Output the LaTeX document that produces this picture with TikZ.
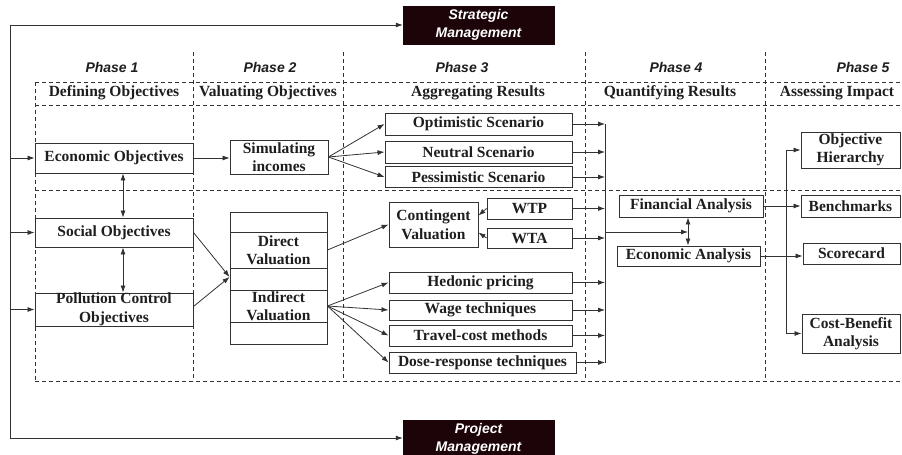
\documentclass[tikz,border=0pt]{standalone}
\usepackage{fontspec}
\setmainfont{Liberation Serif}
\setsansfont{Liberation Sans}
\usepackage{tikz}
\usetikzlibrary{arrows.meta}
\definecolor{mgmtfill}{RGB}{28,4,8}
\definecolor{linegray}{RGB}{50,50,50}
\definecolor{textgray}{RGB}{30,30,30}

\begin{document}
\begin{tikzpicture}[x=1pt, y=-1pt,
  >={Latex[length=7pt,width=5pt]},
  box/.style={draw=linegray, fill=white, line width=0.9pt, inner sep=0pt, align=center,
    text=textgray, font=\bfseries\fontsize{15.5}{18.5}\selectfont},
  mgmt/.style={fill=mgmtfill, draw=mgmtfill, minimum width=151, minimum height=38,
    inner sep=0pt, align=center, text=white,
    font=\sffamily\bfseries\itshape\fontsize{14}{17.5}\selectfont},
  phase/.style={text=textgray, font=\sffamily\bfseries\itshape\fontsize{14}{16}\selectfont},
  colhead/.style={text=textgray, font=\bfseries\fontsize{15.5}{18}\selectfont},
  frameline/.style={draw=linegray, line width=0.7pt, dash pattern=on 4pt off 3pt},
  link/.style={draw=linegray, line width=0.8pt}]

  % Fix the picture size
  \useasboundingbox (0,0) rectangle (902,455);

  % Dashed frame of the phases
  \foreach \x in {193,343,585,765}
    \draw[frameline] (\x,52) -- (\x,381);
  \draw[frameline] (35,82) -- (35,381);
  \foreach \y in {82,105,190,381}
    \draw[frameline] (35,\y) -- (902,\y);

  % Phase titles and column heads
  \node[phase] (ph1) at (112,67) {Phase 1};
  \node[phase] (ph2) at (270,67) {Phase 2};
  \node[phase] (ph3) at (462,67) {Phase 3};
  \node[phase] (ph4) at (676,67) {Phase 4};
  \node[phase] (ph5) at (863,67) {Phase 5};
  \node[colhead] (hd1) at (114,93) {Defining Objectives};
  \node[colhead] (hd2) at (268,93) {Valuating Objectives};
  \node[colhead] (hd3) at (478,93) {Aggregating Results};
  \node[colhead] (hd4) at (670,93) {Quantifying Results};
  \node[colhead] (hd5) at (837,93) {Assessing Impact};

  % Management boxes
  \node[mgmt] (strat) at (478.5,25) {Strategic\\Management};
  \node[mgmt] (proj) at (478.5,439) {Project\\Management};

  % Phase 1
  \node[box, minimum width=158, minimum height=30] (econ) at (114,158) {Economic Objectives};
  \node[box, minimum width=158, minimum height=29] (social) at (114,232.5) {Social Objectives};
  \node[box, minimum width=158, minimum height=33] (pollut) at (114,309.5) {Pollution Control\\Objectives};

  % Phase 2
  \node[box, minimum width=98, minimum height=34] (simul) at (279,157) {Simulating\\incomes};
  \node[box, minimum width=97, minimum height=20] (valtop) at (278.5,222) {};
  \node[box, minimum width=97, minimum height=36] (direct) at (278.5,250) {Direct\\Valuation};
  \node[box, minimum width=97, minimum height=22] (valmid) at (278.5,279) {};
  \node[box, minimum width=97, minimum height=32] (indirect) at (278.5,306) {Indirect\\Valuation};
  \node[box, minimum width=97, minimum height=22] (valbot) at (278.5,333) {};

  % Phase 3
  \node[box, minimum width=187, minimum height=22] (opt) at (478.5,124) {Optimistic Scenario};
  \node[box, minimum width=187, minimum height=22] (neut) at (478.5,152) {Neutral Scenario};
  \node[box, minimum width=187, minimum height=21] (pess) at (478.5,177) {Pessimistic Scenario};
  \node[box, minimum width=89, minimum height=45] (conting) at (433.5,224.5) {Contingent\\Valuation};
  \node[box, minimum width=85, minimum height=21] (wtp) at (529.5,208.5) {WTP};
  \node[box, minimum width=85, minimum height=20] (wta) at (529.5,238) {WTA};
  \node[box, minimum width=183, minimum height=21] (hedon) at (480.5,282.5) {Hedonic pricing};
  \node[box, minimum width=183, minimum height=20] (wage) at (480.5,310) {Wage techniques};
  \node[box, minimum width=183, minimum height=21] (travel) at (480.5,335.5) {Travel-cost methods};
  \node[box, minimum width=187, minimum height=21] (dose) at (482.5,362.5) {Dose-response techniques};

  % Phase 4
  \node[box, minimum width=144, minimum height=22] (fin) at (691,206) {Financial Analysis};
  \node[box, minimum width=143, minimum height=20] (ecan) at (688.5,256) {Economic Analysis};

  % Phase 5
  \node[box, minimum width=99, minimum height=36] (objh) at (850.5,150) {Objective\\Hierarchy};
  \node[box, minimum width=99, minimum height=22] (bench) at (850.5,206) {Benchmarks};
  \node[box, minimum width=97, minimum height=21] (score) at (851.5,253.5) {Scorecard};
  \node[box, minimum width=98, minimum height=39] (cba) at (851,333.5) {Cost-Benefit\\Analysis};

  % Management loop on the left
  \coordinate (lt) at (10,25);
  \coordinate (lb) at (10,438);
  \draw[link] (lt) -- (lb);
  \draw[link,->] (lt) -- (lt -| strat.west);
  \draw[link,->] (lb) -- (lb -| proj.west);
  \foreach \n in {econ,social,pollut}
    \draw[link,->] (lt |- \n) -- (\n.west);

  % Links inside phase 1 and into phase 2
  \draw[link,<->] ([xshift=9pt]econ.south) -- ([xshift=9pt]social.north);
  \draw[link,<->] ([xshift=9pt]social.south) -- ([xshift=9pt]pollut.north);
  \draw[link,->] (econ.east) -- (econ.east -| simul.west);
  \draw[link,->] (social.east) -- ([yshift=2pt]valmid.west);
  \draw[link,->] ([yshift=3pt]pollut.east) -- ([yshift=2pt]valmid.west);

  % Fans into phase 3
  \foreach \n in {opt,neut,pess}
    \draw[link,->] (simul.east) -- (\n.west);
  \draw[link,->] (direct.east) -- (conting.west);
  \draw[link,->] (wtp.west) -- ([yshift=9pt]conting.east);
  \draw[link,->] (wta.west) -- ([yshift=-8pt]conting.east);
  \foreach \n in {hedon,wage,travel,dose}
    \draw[link,->] (indirect.east) -- (\n.west);

  % Collecting bus into phase 4
  \coordinate (bus) at (605,0);
  \foreach \n in {opt,neut,pess,wtp,wta,hedon,wage,travel,dose}
    \draw[link,->] (\n.east) -- (\n.east -| bus);
  \draw[link] (bus |- opt) -- (bus |- dose);
  \coordinate (fajoin) at (688,232);
  \draw[link,->] (bus |- fajoin) -- (fajoin);
  \draw[link,<->] (fin.south -| fajoin) -- (ecan.north -| fajoin);

  % Distribution into phase 5
  \coordinate (hub) at (786,0);
  \draw[link] (hub |- objh) -- (hub |- cba);
  \draw[link,->] (hub |- objh) -- (objh.west);
  \draw[link,->] (hub |- cba) -- (cba.west);
  \draw[link,->] (fin.east) -- (fin.east -| bench.west);
  \draw[link,->] (ecan.east) -- (ecan.east -| score.west);

\end{tikzpicture}
\end{document}
